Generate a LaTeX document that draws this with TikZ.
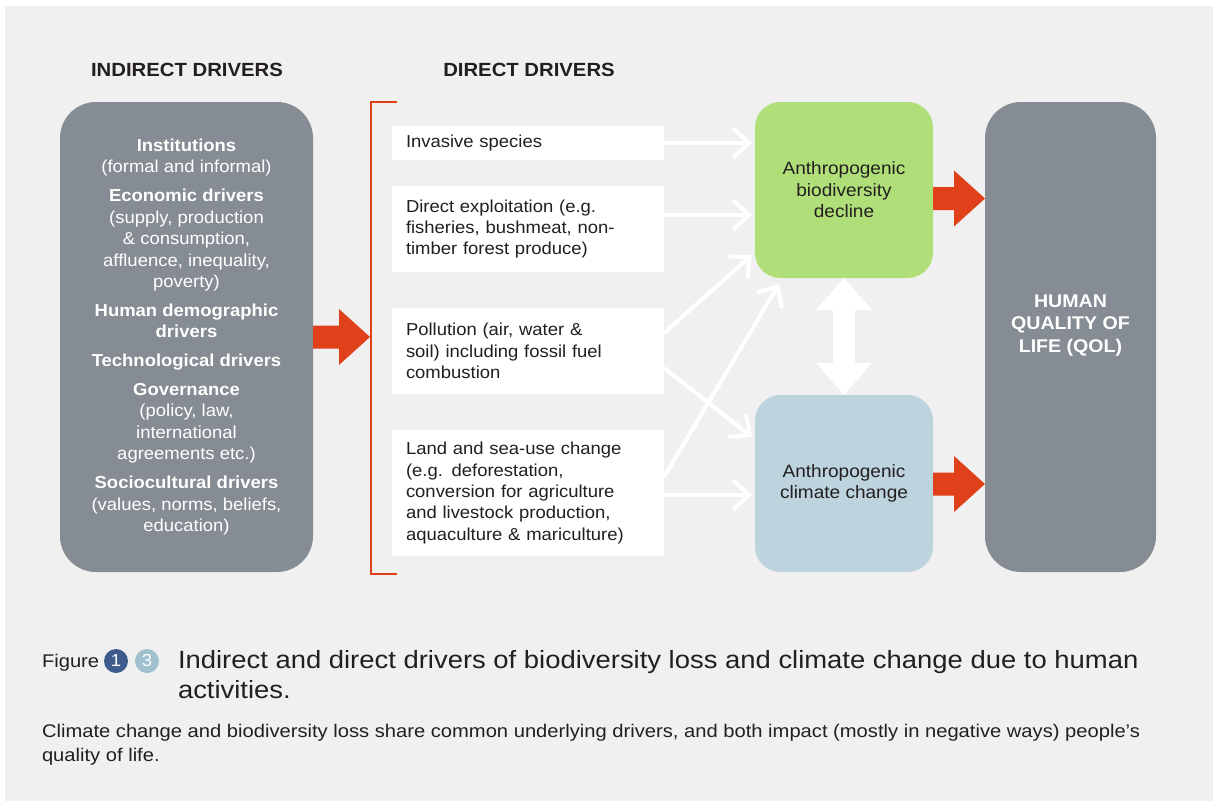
\documentclass[tikz,border=0pt]{standalone}
\usepackage{fontspec}
\setmainfont{Liberation Sans}[FakeStretch=1.065]
\newfontfamily\wideFont{Liberation Sans}[FakeStretch=1.1]
\usetikzlibrary{arrows.meta,calc}
\definecolor{bgc}{HTML}{F0F0F0}
\definecolor{grayc}{HTML}{868C93}
\definecolor{redc}{HTML}{E0401A}
\definecolor{greenc}{HTML}{B0DF79}
\definecolor{bluec}{HTML}{BDD3DE}
\definecolor{txtc}{HTML}{231F20}
\definecolor{darkcirc}{HTML}{3F5A8D}
\definecolor{lightcirc}{HTML}{A0C0CE}
\newcommand\myBody{\fontsize{13}{16.1}\selectfont}
\newcommand\myOut{\fontsize{13.4}{16.1}\selectfont}
\newcommand\myHdr{\fontsize{14.3}{17}\selectfont\bfseries}
\newcommand\myQol{\fontsize{13.8}{17}\selectfont\bfseries}
\newcommand\myTitle{\wideFont\fontsize{18.7}{22.5}\selectfont}
\newcommand\myDesc{\wideFont\fontsize{13.75}{18}\selectfont}
\newcommand\blockarrow[2]{%
  \fill[redc] ($(#1)+(0,-11.5)$) -- ($(#2)+(-31,-11.5)$) -- ($(#2)+(-31,-28)$) -- (#2)
    -- ($(#2)+(-31,28)$) -- ($(#2)+(-31,11.5)$) -- ($(#1)+(0,11.5)$) -- cycle;}
\begin{document}
\begin{tikzpicture}[x=0.75pt,y=-0.75pt,
  every node/.style={inner sep=0pt, outer sep=0pt},
  hdr/.style={font=\myHdr, text=txtc},
  graybox/.style={fill=grayc, rounded corners=27pt, text=white, align=center, font=\myBody},
  wbox/.style={fill=white, minimum width=204pt, text width=183pt, inner xsep=10.5pt,
    inner ysep=0pt, align=left, font=\myBody, text=txtc},
  cbox/.style={rounded corners=19pt, minimum width=133.5pt, minimum height=132pt,
    align=center, font=\myOut, text=txtc},
  warrow/.style={draw=white, line width=3pt, -{Straight Barb[length=12pt,width=22pt]}},
  circnum/.style={circle, minimum size=18pt, text=white, font=\myBody},
]
\fill[white] (0,0) rectangle (1218,808);
\fill[bgc] (5,6) rectangle (1213,801);
\useasboundingbox (0,0) rectangle (1218,808);

% headers
\node[hdr] (hind) at (187,70) {INDIRECT DRIVERS};
\node[hdr] (hdir) at (529,70) {DIRECT DRIVERS};

% indirect drivers box
\node[graybox, minimum width=189.75pt, minimum height=352.5pt] (lb) at (186.5,337) {%
\textbf{Institutions}\\(formal and informal)\\[5.6pt]
\textbf{Economic drivers}\\(supply, production\\\& consumption,\\affluence, inequality,\\poverty)\\[5.6pt]
\textbf{Human demographic}\\\textbf{drivers}\\[5.3pt]
\textbf{Technological drivers}\\[5.6pt]
\textbf{Governance}\\(policy, law,\\international\\agreements etc.)\\[5.6pt]
\textbf{Sociocultural drivers}\\(values, norms, beliefs,\\education)};

% direct drivers
\node[wbox, minimum height=25.5pt] (b1) at (528,143) {Invasive species};
\node[wbox, minimum height=64.5pt] (b2) at (528,229) {Direct exploitation (e.g.\\fisheries, bushmeat, non-\\timber forest produce)};
\node[wbox, minimum height=64.5pt] (b3) at (528,351) {Pollution (air, water \&\\soil) including fossil fuel\\combustion};
\node[wbox, minimum height=94.5pt] (b4) at (528,493) {Land and sea-use change\\(e.g. deforestation,\\conversion for agriculture\\and livestock production,\\aquaculture \& mariculture)};

% bracket
\coordinate (brA) at (397,102);
\coordinate (brB) at (371,102);
\coordinate (brC) at (371,574);
\coordinate (brD) at (397,574);
\draw[redc, line width=1.6pt] (brA) -- (brB) -- (brC) -- (brD);
\coordinate (brk) at (370,337);
\blockarrow{lb.east}{brk}

% outcomes
\node[cbox, fill=greenc] (green) at (844,190) {Anthropogenic\\biodiversity\\decline};
\node[cbox, fill=bluec, minimum height=132.75pt] (blue) at (844,483.5) {Anthropogenic\\climate change};
\node[graybox, minimum width=128.25pt, minimum height=352.5pt] (qol) at (1070.5,337) {};
\node[font=\myQol, text=white, align=center] (qolt) at (1070.5,325.5) {HUMAN\\QUALITY OF\\LIFE (QOL)};

% white arrows
\draw[warrow] (b1.east) -- ($(b1.east -| green.west)+(-3,0)$);
\draw[warrow] ($(b2.east)+(0,-14)$) -- ($(b2.east -| green.west)+(-3,-14)$);
\draw[warrow] ($(b3.east)+(0,-18)$) -- ($(green.south west)+(-3,-23)$);
\draw[warrow] ($(b3.east)+(0,17)$) -- ($(blue.north west)+(-3,42)$);
\draw[warrow] ($(b4.east)+(0,-16)$) -- ($(green.south west)+(24,6)$);
\draw[warrow] ($(b4.east)+(0,2)$) -- ($(b4.east -| blue.west)+(-3,2)$);

% double arrow
\fill[white] (green.south) -- ++(28,32) -- ++(-17,0) -- ($(blue.north)+(11,-32)$) -- ++(17,0)
  -- (blue.north) -- ++(-28,-32) -- ++(17,0) -- ($(green.south)+(-11,32)$) -- ++(-17,0) -- cycle;

% red arrows to QoL
\coordinate (ga) at ($(green.east)+(0,8.5)$);
\coordinate (gt) at (ga -| qol.west);
\blockarrow{ga}{gt}
\coordinate (ba) at ($(blue.east)+(0,0.5)$);
\coordinate (bt) at (ba -| qol.west);
\blockarrow{ba}{bt}

% caption
\node[anchor=base west, font=\myDesc, text=txtc] (fig) at (42,667) {Figure};
\node[circnum, fill=darkcirc] (c1) at (116,661) {1};
\node[circnum, fill=lightcirc] (c3) at (147,661) {3};
\node[anchor=north west, font=\myTitle, text=txtc, align=left] (title) at (178,650)
  {Indirect and direct drivers of biodiversity loss and climate change due to human\\activities.};
\node[anchor=north west, font=\myDesc, text=txtc, align=left] (desc) at (42,724)
  {Climate change and biodiversity loss share common underlying drivers, and both impact (mostly in negative ways) people’s\\quality of life.};
\end{tikzpicture}
\end{document}
